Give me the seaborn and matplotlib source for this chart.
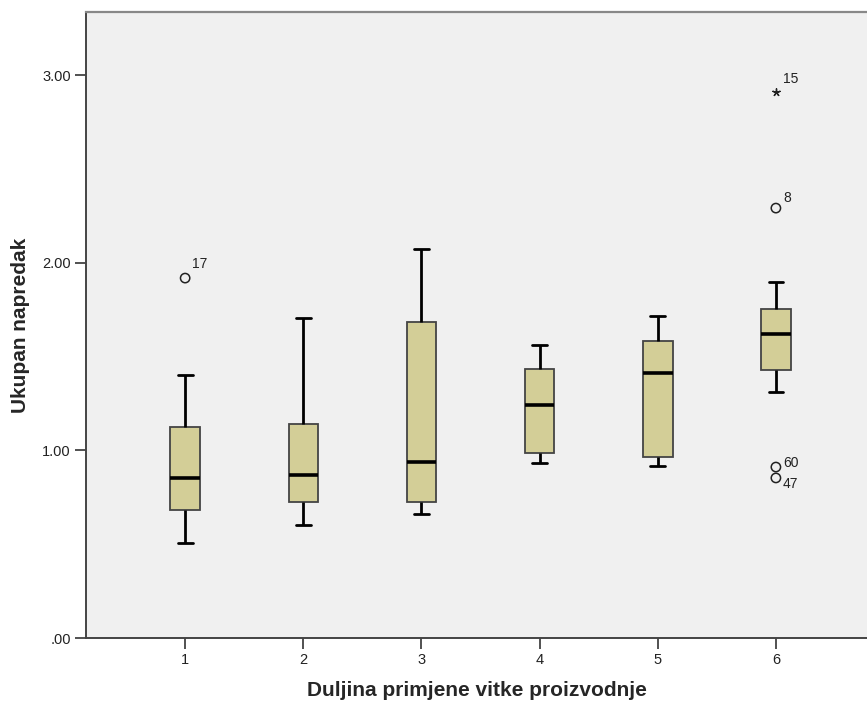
import pandas as pd
import matplotlib
matplotlib.use("Agg")
import matplotlib.pyplot as plt
import seaborn as sns

# Five-number summary per group (whisker ends, quartiles, median)
groups = ["1", "2", "3", "4", "5", "6"]
whisker_low = [0.506, 0.602, 0.661, 0.932, 0.916, 1.311]
q1 = [0.682, 0.725, 0.725, 0.986, 0.964, 1.428]
median = [0.853, 0.869, 0.938, 1.242, 1.412, 1.620]
q3 = [1.124, 1.140, 1.684, 1.433, 1.583, 1.753]
whisker_high = [1.401, 1.705, 2.073, 1.561, 1.716, 1.897]

# Outliers (circles) and extremes (stars) with their case labels
outlier_group = ["1", "6", "6", "6"]
outlier_value = [1.918, 2.291, 0.911, 0.853]
outlier_label = ["17", "8", "60", "47"]
extreme_group = ["6"]
extreme_value = [2.909]
extreme_label = ["15"]

yticks = [0.0, 1.0, 2.0, 3.0]

sns.set_theme(style="ticks")
plt.rcParams["font.family"] = ["Liberation Sans", "DejaVu Sans"]

# long-form table: 5 points per group so quartiles come out exactly
rows = []
for g, a, b, c, d, e in zip(groups, whisker_low, q1, median, q3, whisker_high):
    for v in (a, b, c, d, e):
        rows.append({"grp": g, "val": v})
df = pd.DataFrame(rows)

fig = plt.figure(figsize=(8.67, 7.04), dpi=100)
ax = fig.add_axes([86 / 867, 66 / 704, 1 - 86 / 867, (638 - 12) / 704])
ax.set_facecolor("#F0F0F0")

sns.boxplot(data=df, x="grp", y="val", order=groups, whis=(0, 100), width=0.25,
            color="#D3CE97", saturation=1, ax=ax,
            boxprops=dict(edgecolor="#444444", linewidth=1.3),
            whiskerprops=dict(color="black", linewidth=2),
            capprops=dict(color="black", linewidth=2),
            medianprops=dict(color="black", linewidth=2.6),
            showfliers=False)

# outliers and extremes
pos = {g: i for i, g in enumerate(groups)}
ax.scatter([pos[g] for g in outlier_group], outlier_value, s=45,
           facecolors="none", edgecolors="#222222", linewidths=1.1, zorder=5)
ax.scatter([pos[g] for g in extreme_group], extreme_value, s=28,
           marker=(5, 2), color="#222222", linewidths=1.0, zorder=5)

label_offsets = {"17": (0.06, 0.075), "8": (0.06, 0.055), "60": (0.06, 0.02),
                 "47": (0.06, -0.03), "15": (0.06, 0.07)}
for g, v, t in zip(outlier_group + extreme_group, outlier_value + extreme_value,
                   outlier_label + extreme_label):
    dx, dy = label_offsets[t]
    ax.text(pos[g] + dx, v + dy, t, fontsize=10, color="#222222", va="center", ha="left")

ax.set_xlim(-0.839, 5.771)
ax.set_ylim(0, 3.336)
ax.set_yticks(yticks)
ax.set_yticklabels([f"{t:.2f}".lstrip("0") if t < 1 else f"{t:.2f}" for t in yticks])
ax.tick_params(axis="both", labelsize=10.5, length=8, width=1.2, colors="#333333",
               labelcolor="#222222", pad=3)

for s in ["left", "bottom"]:
    ax.spines[s].set_color("#444444")
    ax.spines[s].set_linewidth(1.4)
ax.spines["top"].set_color("#888888")
ax.spines["top"].set_linewidth(1.6)
ax.spines["right"].set_visible(False)

ax.set_xlabel("Duljina primjene vitke proizvodnje", fontsize=15, fontweight="bold", labelpad=10)
ax.set_ylabel("Ukupan napredak", fontsize=15, fontweight="bold")
ax.yaxis.set_label_coords(-56 / 781, 0.5)

fig.savefig("out.png", dpi=100, facecolor="white")
